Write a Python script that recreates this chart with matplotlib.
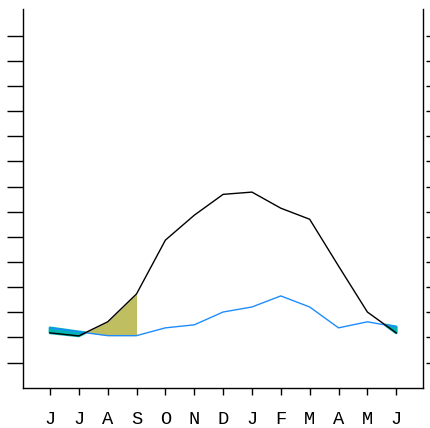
import numpy as np
import matplotlib
matplotlib.use("Agg")
import matplotlib.pyplot as plt

# month labels (June .. June)
months = ["J", "J", "A", "S", "O", "N", "D", "J", "F", "M", "A", "M", "J"]
# black curve
black_vals = np.array([2.18, 2.06, 2.62, 3.73, 5.87, 6.86, 7.69, 7.78, 7.14, 6.70, 4.84, 3.01, 2.18])
# blue curve
blue_vals = np.array([2.38, 2.22, 2.07, 2.07, 2.38, 2.50, 3.01, 3.21, 3.65, 3.21, 2.38, 2.62, 2.42])
yticks = list(range(1, 15))

x = np.arange(len(months))

fig = plt.figure(figsize=(4.3, 4.28), dpi=100)
ax = fig.add_axes([0.0535, 0.0942, 0.930, 0.884])

# shaded areas
ax.fill_between(x, black_vals, blue_vals, where=blue_vals > black_vals,
                interpolate=True, facecolor="#00B4B4", edgecolor="#00B4B4", lw=2.0)
ax.fill_between(x[:4], black_vals[:4], blue_vals[:4],
                where=black_vals[:4] > blue_vals[:4],
                interpolate=True, color="#BFBF62", lw=0)

ax.plot(x, blue_vals, color="#1E8CFF", lw=1.0)
ax.plot(x, black_vals, color="black", lw=1.0)

ax.set_xlim(-0.935, 12.925)
ax.set_ylim(0, 15.05)
ax.set_xticks(x)
ax.set_xticklabels(months, family="Liberation Mono", fontsize=13.5)
ax.set_yticks(yticks)
ax.set_yticklabels([])

ax.spines["top"].set_visible(False)
for s in ["left", "bottom", "right"]:
    ax.spines[s].set_linewidth(1.0)

ax.tick_params(axis="x", direction="out", length=5, width=1.0, pad=12)
ax.tick_params(axis="y", direction="out", length=11.5, width=1.0, left=True, right=False)

# short ticks on the right, slightly off the frame
tw = ax.twinx()
tw.set_ylim(ax.get_ylim())
tw.set_yticks(yticks)
tw.set_yticklabels([])
tw.spines["right"].set_position(("outward", 2))
for s in tw.spines.values():
    s.set_visible(False)
tw.tick_params(axis="y", direction="out", length=6, width=1.0)

fig.savefig("out.png", dpi=100)
